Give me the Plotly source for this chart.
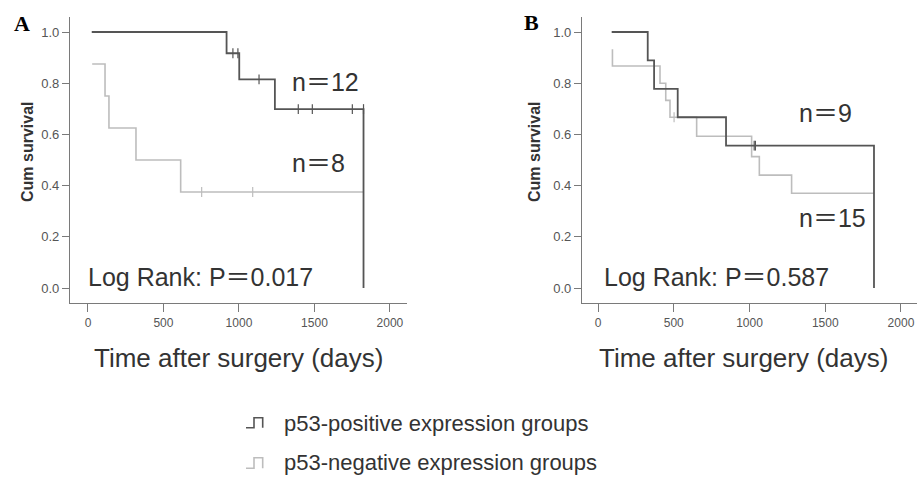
import plotly.graph_objects as go

W, H = 922, 477

# ---------------- data ----------------
# Panel A
a_pos_t = [25, 918, 1002, 1238, 1825, 1825]
a_pos_s = [1.0, 0.917, 0.815, 0.699, 0.699, 0.0]
a_pos_cens_t = [960, 993, 1133, 1393, 1486, 1751, 1825]
a_pos_cens_s = [0.917, 0.917, 0.815, 0.699, 0.699, 0.699, 0.699]

a_neg_t = [28, 113, 139, 318, 614, 1825]
a_neg_s = [0.875, 0.75, 0.625, 0.5, 0.375, 0.375]
a_neg_cens_t = [753, 1091]
a_neg_cens_s = [0.375, 0.375]

# Panel B
b_pos_t = [90, 328, 370, 526, 845, 1822, 1822]
b_pos_s = [1.0, 0.889, 0.778, 0.667, 0.556, 0.556, 0.0]
b_pos_cens_t = [1031, 1039]
b_pos_cens_s = [0.556, 0.556]

b_neg_t = [95, 95, 409, 447, 475, 651, 1014, 1065, 1278, 1822]
b_neg_s = [0.933, 0.867, 0.8, 0.733, 0.667, 0.593, 0.513, 0.441, 0.37, 0.37]
b_neg_cens_t = [502]
b_neg_cens_s = [0.667]

x_ticks = [0, 500, 1000, 1500, 2000]
y_ticks = [0.0, 0.2, 0.4, 0.6, 0.8, 1.0]
y_tick_text = ["0.0", "0.2", "0.4", "0.6", "0.8", "1.0"]

series_names = ["p53-positive expression groups", "p53-negative expression groups"]
texts_a = ["n＝12", "n＝8", "Log Rank: P＝0.017"]
texts_b = ["n＝9", "n＝15", "Log Rank: P＝0.587"]

# ---------------- style ----------------
DARK = "#555555"
LIGHT = "#bdbdbd"
AXC = "#7a7a7a"
TXT = "#333333"
SANS = "Arial, Liberation Sans, Noto Sans CJK SC, sans-serif"


def px(x):
    return x / W


def py(y):
    return 1 - y / H


fig = go.Figure()


def add_curves(t, s, ct, cs, color, width, xa, ya):
    fig.add_trace(go.Scatter(x=t, y=s, mode="lines", line=dict(shape="hv", color=color, width=width),
                             xaxis=xa, yaxis=ya, showlegend=False, hoverinfo="skip"))
    fig.add_trace(go.Scatter(x=ct, y=cs, mode="markers",
                             marker=dict(symbol="line-ns", size=7, line=dict(color=color, width=1.2)),
                             xaxis=xa, yaxis=ya, showlegend=False, hoverinfo="skip"))


add_curves(a_neg_t, a_neg_s, a_neg_cens_t, a_neg_cens_s, LIGHT, 1.6, "x", "y")
add_curves(a_pos_t, a_pos_s, a_pos_cens_t, a_pos_cens_s, DARK, 1.8, "x", "y")
add_curves(b_neg_t, b_neg_s, b_neg_cens_t, b_neg_cens_s, LIGHT, 1.6, "x2", "y2")
add_curves(b_pos_t, b_pos_s, b_pos_cens_t, b_pos_cens_s, DARK, 1.8, "x2", "y2")

xaxis_common = dict(
    showline=True, linecolor=AXC, linewidth=1.2, ticks="outside", ticklen=8, tickcolor=AXC,
    tickwidth=1, tickvals=x_ticks, showgrid=False, zeroline=False,
    tickfont=dict(family=SANS, size=12, color="#555555"),
)
yaxis_common = dict(
    showline=True, linecolor=AXC, linewidth=1.2, ticks="outside", ticklen=7, tickcolor=AXC,
    tickwidth=1, tickvals=y_ticks, ticktext=y_tick_text, showgrid=False, zeroline=False,
    range=[-0.0586, 1.0586], tickfont=dict(family=SANS, size=13, color="#555555"),
)

ydom = [py(303), py(17)]
fig.update_layout(
    width=W, height=H, margin=dict(l=0, r=0, t=0, b=0),
    paper_bgcolor="white", plot_bgcolor="white",
    xaxis=dict(domain=[px(70), px(407)], range=[-119, 2113], anchor="y", **xaxis_common),
    yaxis=dict(domain=ydom, anchor="x", **yaxis_common),
    xaxis2=dict(domain=[px(582), px(917)], range=[-106, 2106], anchor="y2", **xaxis_common),
    yaxis2=dict(domain=ydom, anchor="x2", **yaxis_common),
    showlegend=False,
)


def note(x, y, text, size, xref="paper", yref="paper", xanchor="center", **kw):
    fam = kw.pop("family", SANS)
    col = kw.pop("color", TXT)
    return dict(x=x, y=y, xref=xref, yref=yref, xanchor=xanchor, yanchor="middle", text=text,
                showarrow=False, font=dict(family=fam, size=size, color=col), **kw)


SERIF = "Times New Roman, Liberation Serif, serif"
ann = [
    note(px(22), py(24), "<b>A</b>", 22, family=SERIF, color="black"),
    note(px(531), py(23), "<b>B</b>", 22, family=SERIF, color="black"),
]
for xc in (27, 534):
    ann.append(note(px(xc), py(152), "<b>Cum survival</b>", 16, textangle=-90))
for xc in (238, 743):
    ann.append(note(px(xc), py(358), "Time after surgery (days)", 26))
ann += [
    note(1338, 0.805, texts_a[0], 25, "x", "y", "left"),
    note(1338, 0.488, texts_a[1], 25, "x", "y", "left"),
    note(-13, 0.043, texts_a[2], 25, "x", "y", "left"),
    note(1313, 0.684, texts_b[0], 25, "x2", "y2", "left"),
    note(1313, 0.273, texts_b[1], 25, "x2", "y2", "left"),
    note(26, 0.043, texts_b[2], 25, "x2", "y2", "left"),
]
for name, yc in zip(series_names, (423, 462)):
    ann.append(note(px(282), py(yc), name, 22, xanchor="left"))
fig.update_layout(annotations=ann)

# legend step icons
shapes = []
for color, yb, yt in ((DARK, 427.7, 417.7), (LIGHT, 468.3, 457.7)):
    path = (f"M {px(246)},{py(yb)} L {px(254)},{py(yb)} L {px(254)},{py(yt)} "
            f"L {px(262.7)},{py(yt)} L {px(262.7)},{py(yb)}")
    shapes.append(dict(type="path", path=path, xref="paper", yref="paper",
                       line=dict(color=color, width=1.6)))
fig.update_layout(shapes=shapes)

fig.write_html("out.html", config={"displayModeBar": False},
               post_script="document.body.style.margin='0px';")
